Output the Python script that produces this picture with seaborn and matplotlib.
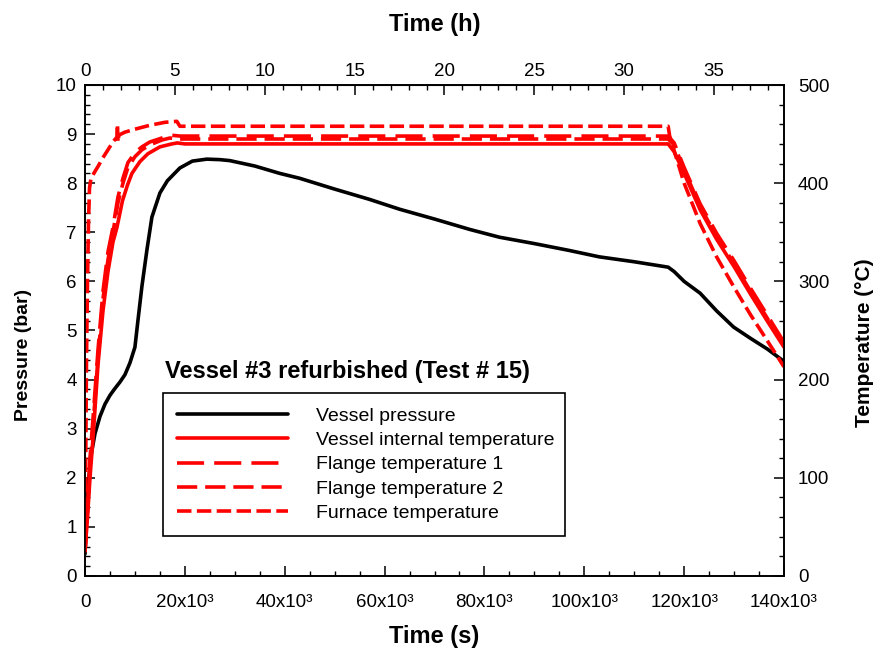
import matplotlib
matplotlib.use("Agg")
import matplotlib.pyplot as plt
import seaborn as sns
import numpy as np

# ---- data ----
# vessel pressure (bar) vs time (s)
t_pressure = [0, 300, 700, 1200, 2000, 3000, 4000, 5000, 6000, 7000, 8000, 9000,
              10000, 10600, 11400, 12400, 13400, 15000, 16500, 19000, 21500, 24400,
              27000, 29000, 34000, 39000, 43000, 50000, 57000, 63000, 70000, 77000,
              83000, 90000, 97000, 103000, 110000, 116800, 118000, 120000, 123200,
              126500, 129900, 133300, 136700, 140000]
pressure = [0.45, 1.2, 1.9, 2.45, 2.9, 3.25, 3.5, 3.68, 3.82, 3.95, 4.1, 4.34,
            4.66, 5.2, 5.9, 6.64, 7.31, 7.8, 8.05, 8.31, 8.45, 8.49,
            8.48, 8.46, 8.35, 8.2, 8.1, 7.88, 7.67, 7.47, 7.27, 7.06,
            6.9, 6.77, 6.63, 6.5, 6.4, 6.29, 6.2, 6.0, 5.76,
            5.4, 5.07, 4.84, 4.62, 4.37]

# vessel internal temperature (degC)
t_vessel = [0, 500, 1000, 1600, 2600, 3600, 4600, 5600, 6400, 7500, 8500, 9400,
            11000, 12600, 15000, 17400, 18500, 20000, 116800, 118000, 120000,
            123200, 126500, 130000, 133300, 136600, 140000]
temp_vessel = [25, 60, 100, 140, 215, 270, 310, 340, 355, 382, 398, 410,
               422, 430, 437, 440, 441, 440, 440, 432, 410,
               373, 343, 315, 287, 260, 233]

# flange temperature 1 (degC)
t_flange1 = [0, 500, 1000, 1600, 2600, 3600, 4600, 5600, 6600, 7600, 8600, 10000,
             11400, 13000, 15400, 17000, 19000, 116800, 118000, 120000, 123200,
             126500, 130000, 133300, 136600, 140000]
temp_flange1 = [25, 70, 120, 160, 230, 290, 330, 355, 386, 405, 421, 431,
                437, 442, 446, 449, 448, 448, 441, 416, 379,
                349, 321, 293, 266, 238]

# flange temperature 2 (degC)
t_flange2 = [0, 500, 1000, 1600, 2600, 3600, 4600, 5600, 6600, 7600, 8600, 10000,
             11400, 13000, 15400, 17000, 19000, 116800, 118000, 120000, 123200,
             126500, 130000, 133300, 136600, 140000]
temp_flange2 = [25, 65, 112, 152, 222, 282, 322, 350, 380, 400, 416, 427,
                434, 439, 444, 446, 445, 445, 439, 414, 376,
                346, 318, 290, 263, 235]

# furnace temperature (degC)
t_furnace = [0, 150, 300, 500, 700, 900, 1200, 2000, 2600, 3600, 4600, 5600,
             6400, 6500, 6600, 6800, 8000, 10000, 13000, 16000, 18400, 19000,
             116800, 117100, 120000, 123200, 126500, 130000, 133300, 136600, 140000]
temp_furnace = [25, 120, 220, 300, 360, 395, 405, 412, 417, 426, 434, 442,
                447, 460, 442, 449, 452, 455, 459, 462, 463, 458,
                458, 448, 400, 359, 325, 294, 266, 240, 213]

x_ticks = [0, 20000, 40000, 60000, 80000, 100000, 120000, 140000]
x_tick_labels = ["0" if v == 0 else f"{v // 1000}x10³" for v in x_ticks]

series_labels = ["Vessel pressure", "Vessel internal temperature",
                 "Flange temperature 1", "Flange temperature 2",
                 "Furnace temperature"]

# ---- style ----
sns.set_style("ticks")
plt.rcParams['font.family'] = ['Liberation Sans', 'DejaVu Sans']
for k in ("text.color", "axes.labelcolor", "xtick.color", "ytick.color"):
    plt.rcParams[k] = "black"

RED = "#ff0000"
LW = 2.6

fig = plt.figure(figsize=(8.8, 6.51), dpi=100)
ax = fig.add_axes([85 / 880, 1 - 576 / 651, 699 / 880, 491 / 651])
ax2 = ax.twinx()

sns.lineplot(x=t_pressure, y=pressure, ax=ax, color="black", linewidth=LW,
             sort=False, estimator=None, label=series_labels[0], legend=False)
sns.lineplot(x=t_vessel, y=temp_vessel, ax=ax2, color=RED, linewidth=LW,
             sort=False, estimator=None, label=series_labels[1], legend=False)
sns.lineplot(x=t_flange1, y=temp_flange1, ax=ax2, color=RED, linewidth=LW,
             sort=False, estimator=None, label=series_labels[2], legend=False,
             linestyle=(0, (7.5, 2.8)))
sns.lineplot(x=t_flange2, y=temp_flange2, ax=ax2, color=RED, linewidth=LW,
             sort=False, estimator=None, label=series_labels[3], legend=False,
             linestyle=(0, (5.6, 2.2)))
sns.lineplot(x=t_furnace, y=temp_furnace, ax=ax2, color=RED, linewidth=LW,
             sort=False, estimator=None, label=series_labels[4], legend=False,
             linestyle=(0, (4.0, 1.5)))

# axes ranges and ticks
ax.set_xlim(0, 140000)
ax.set_ylim(0, 10)
ax2.set_ylim(0, 500)
ax.set_xticks(x_ticks)
ax.set_xticklabels(x_tick_labels)
ax.set_xticks(np.arange(0, 140001, 5000), minor=True)
ax.set_yticks(np.arange(0, 11, 1))
ax.set_yticks(np.arange(0, 10.01, 0.2), minor=True)
ax2.set_yticks(np.arange(0, 501, 100))
ax2.set_yticks(np.arange(0, 501, 20), minor=True)

for a in (ax, ax2):
    a.tick_params(which="major", direction="in", length=7, width=1.1,
                  labelsize=13.5, color="black")
    a.tick_params(which="minor", direction="in", length=3.5, width=1.0,
                  color="black")
    for s in a.spines.values():
        s.set_linewidth(1.2)
        s.set_color("black")
ax.tick_params(axis="x", pad=13)
ax.tick_params(axis="y", pad=6)
ax2.tick_params(axis="y", pad=10)

# top axis in hours
top = ax.secondary_xaxis("top", functions=(lambda s: s / 3600, lambda h: h * 3600))
top.set_xticks(np.arange(0, 36, 5))
top.set_xticks(np.arange(0, 39, 1), minor=True)
top.tick_params(which="major", direction="in", length=7, width=1.1, labelsize=13.5)
top.tick_params(which="minor", direction="in", length=3.5, width=1.0)
top.set_xlabel("Time (h)", fontsize=17, fontweight="bold", labelpad=23)

ax.set_xlabel("Time (s)", fontsize=17, fontweight="bold", labelpad=10)
ax.set_ylabel("Pressure (bar)", fontsize=14, fontweight="bold")
ax.yaxis.set_label_coords(-0.076, 0.45)
ax2.set_ylabel("Temperature (°C)", fontsize=15, fontweight="bold")
ax2.yaxis.set_label_coords(1.1016, 0.475)

# annotation title and legend
ax.text(0.115, 0.4155, "Vessel #3 refurbished (Test # 15)", transform=ax.transAxes,
        fontsize=17, fontweight="bold", va="center", ha="left")

handles = ax.get_lines()[:1] + ax2.get_lines()[:4]
leg = ax2.legend(handles, series_labels, loc="upper left",
                 bbox_to_anchor=(0.1116, 0.0727, 0.575, 0.3), mode="expand",
                 fontsize=14, handlelength=5.7, handletextpad=1.45,
                 labelspacing=0.35, borderpad=0.72, frameon=True,
                 fancybox=False, framealpha=1, borderaxespad=0)
leg.get_frame().set_edgecolor("black")
leg.get_frame().set_linewidth(1.2)

fig.savefig("out.png", dpi=100)
